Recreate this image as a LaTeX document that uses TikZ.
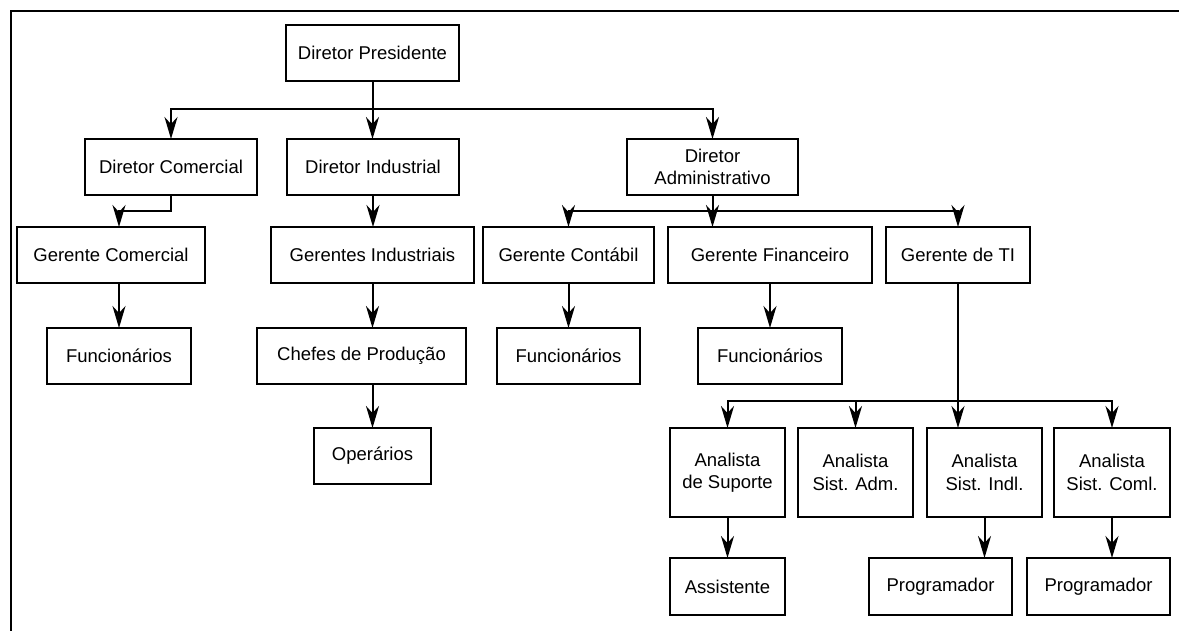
\documentclass[tikz,border=0pt]{standalone}
\usepackage{fontspec}
\setmainfont{Liberation Sans}
\usetikzlibrary{arrows.meta}
\begin{document}
\begin{tikzpicture}[x=1pt,y=-1pt,
  box/.style={draw,line width=2pt,inner sep=0pt,outer sep=0pt,align=center,
    font=\fontsize{18.5}{22.5}\selectfont,minimum height=56pt},
  tall/.style={box,minimum height=89pt},
  link/.style={line width=2pt},
  arr/.style={link,-{Stealth[length=22pt,width=13pt,inset=7pt]}}]
\useasboundingbox (0,0) rectangle (1179,631);

% frame
\draw[line width=2pt] (11,631) -- (11,11) -- (1179,11);

% bus levels
\coordinate (b1) at (0,109);
\coordinate (b2) at (0,211);
\coordinate (b3) at (0,401);

% directors
\node[box,minimum width=173pt] (pres) at (372.5,53) {Diretor Presidente};
\node[box,minimum width=172pt] (dcom) at (171,167) {Diretor Comercial};
\node[box,minimum width=172pt] (dind) at (373,167) {Diretor Industrial};
\node[box,minimum width=171pt] (dadm) at (712.5,167) {Diretor\\Administrativo};

% commercial branch
\node[box,minimum width=188pt] (gcom) at (111,255) {Gerente Comercial};
\node[box,minimum width=144pt] (func1) at (119,356) {Funcionários};
\coordinate (gcomin) at (119,227);

% industrial branch
\node[box,minimum width=203pt] (gind) at (372.5,255) {Gerentes Industriais};
\node[box,minimum width=209pt] (chef) at (361.5,356) {Chefes de Produção};
\node[box,minimum width=117pt] (oper) at (372.5,456) {Operários};

% administrative branch
\node[box,minimum width=171pt] (gcont) at (568.5,255) {Gerente Contábil};
\node[box,minimum width=204pt] (gfin) at (770,255) {Gerente Financeiro};
\node[box,minimum width=144pt] (gti) at (958,255) {Gerente de TI};
\node[box,minimum width=143pt] (func2) at (568.5,356) {Funcionários};
\node[box,minimum width=144pt] (func3) at (770,356) {Funcionários};

% IT analysts
\node[tall,minimum width=115pt] (an1) at (727.5,472.5) {Analista\\de Suporte};
\node[tall,minimum width=115pt] (an2) at (855.5,472.5) {Analista\\Sist. Adm.};
\node[tall,minimum width=115pt] (an3) at (984.5,472.5) {Analista\\Sist. Indl.};
\node[tall,minimum width=116pt] (an4) at (1112,472.5) {Analista\\Sist. Coml.};
\node[box,minimum width=115pt,minimum height=57pt] (assist) at (727.5,586.5) {Assistente};
\node[box,minimum width=143pt,minimum height=57pt] (prog1) at (940.5,586.5) {Programador};
\node[box,minimum width=143pt,minimum height=57pt] (prog2) at (1098.5,586.5) {Programador};

% connectors: president
\draw[arr] (pres.south) -- (pres.south |- dind.north);
\draw[arr] (pres.south |- b1) -| (dcom.north);
\draw[arr] (pres.south |- b1) -| (dadm.north);

% connectors: commercial
\draw[arr] (dcom.south) -- (dcom.south |- b2) -| (gcomin);
\draw[arr] (func1.north |- gcom.south) -- (func1.north);

% connectors: industrial
\draw[arr] (dind.south) -- (dind.south |- gind.north);
\draw[arr] (gind.south) -- (gind.south |- chef.north);
\draw[arr] (oper.north |- chef.south) -- (oper.north);

% connectors: administrative
\draw[arr] (dadm.south) -- (dadm.south |- gfin.north);
\draw[arr] (dadm.south |- b2) -| (gcont.north);
\draw[arr] (dadm.south |- b2) -| (gti.north);
\draw[arr] (gcont.south) -- (gcont.south |- func2.north);
\draw[arr] (gfin.south) -- (func3.north);

% connectors: IT
\draw[arr] (gti.south) -- (gti.south |- an3.north);
\draw[arr] (gti.south |- b3) -| (an1.north);
\draw[arr] (gti.south |- b3) -| (an4.north);
\draw[arr] (an2.north |- b3) -- (an2.north);
\draw[arr] (an1.south) -- (assist.north);
\draw[arr] (an3.south) -- (an3.south |- prog1.north);
\draw[arr] (an4.south) -- (an4.south |- prog2.north);
\end{tikzpicture}
\end{document}
